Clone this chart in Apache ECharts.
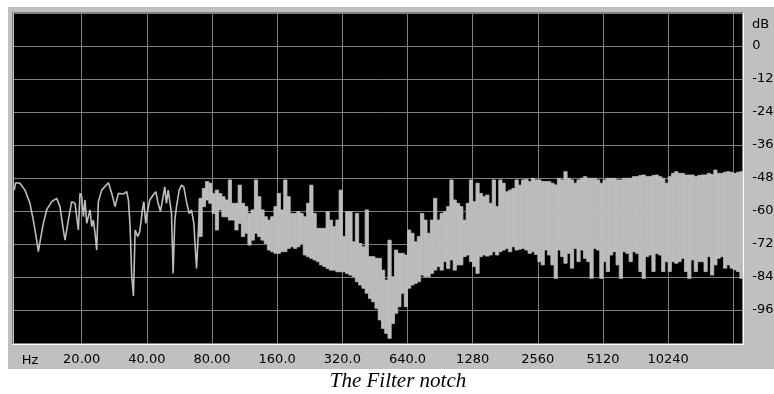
<!DOCTYPE html>
<html>
<head>
<meta charset="utf-8">
<script src="https://cdn.jsdelivr.net/npm/echarts@6/dist/echarts.min.js"></script>
<style>
html, body { margin: 0; padding: 0; background: #fff; }
#chart { width: 774px; height: 394px; }
</style>
</head>
<body>
<div id="chart"></div>
<script>
// x unit: octaves above 20 Hz (the analyser's log frequency axis)
const xTickOct = [0, 1, 2, 3, 4, 5, 6, 7, 8, 9, 10];
const xTickLabels = ['20.00', '40.00', '80.00', '160.0', '320.0', '640.0', '1280', '2560', '5120', '10240', ''];

// low end: few bins, drawn as a single trace
const lowOct = [
    -1.035, -1.014, -0.948, -0.871, -0.794, -0.743, -0.691, -0.666, -0.640, -0.589,
    -0.538, -0.461, -0.384, -0.333, -0.282, -0.256, -0.205, -0.154, -0.102, -0.077,
    -0.051, -0.026, 0, 0.026, 0.051, 0.077, 0.128, 0.154, 0.179, 0.205,
    0.230, 0.256, 0.307, 0.410, 0.461, 0.512, 0.563, 0.640, 0.691, 0.717,
    0.743, 0.768, 0.794, 0.820, 0.860, 0.891, 0.932, 0.953, 0.983, 1.004,
    1.045, 1.096, 1.137, 1.173, 1.209, 1.240, 1.275, 1.301, 1.327, 1.352,
    1.378, 1.403, 1.429, 1.455, 1.496, 1.532, 1.567, 1.608, 1.649, 1.685,
    1.721, 1.762, 1.787, 1.813
];
const lowDb = [
    -52.4, -49.7, -49.9, -52.4, -57.2, -63.3, -70.6, -74.8, -71.2, -64.5,
    -59.6, -56.6, -55.4, -58.4, -66.9, -70.6, -63.3, -56.6, -57.2, -62.1,
    -66.9, -53.6, -54.8, -62.1, -56.0, -64.5, -59.6, -65.7, -63.3, -68.1,
    -74.2, -56.6, -52.4, -49.7, -53.6, -58.4, -53.6, -53.8, -53.0, -56.0,
    -65.7, -83.9, -90.9, -66.9, -69.3, -67.5, -59.6, -56.6, -64.5, -60.9,
    -56.0, -54.2, -53.0, -57.2, -60.2, -56.0, -51.2, -57.2, -52.4, -51.8,
    -60.9, -82.7, -63.3, -58.4, -52.4, -50.6, -51.2, -56.6, -60.9, -59.6,
    -64.5, -80.9, -69.3, -55.4
];

// upper part: dense bins, drawn as max/min per column
const bandStart = 1.8;
const bandStep = 0.05;
const bandHi = [
    -55.4, -51.8, -49.3, -49.9, -53.6, -52.4, -53.6, -54.8, -56.0, -48.7,
    -57.2, -57.2, -50.6, -57.2, -58.4, -60.9, -59.6, -48.7, -54.8, -59.6,
    -62.1, -63.3, -62.1, -58.4, -53.6, -59.6, -48.7, -54.8, -60.9, -60.9,
    -60.2, -60.9, -62.1, -57.2, -50.6, -60.9, -66.3, -66.3, -66.3, -60.2,
    -63.3, -65.7, -63.3, -52.4, -69.3, -60.2, -60.2, -71.2, -60.9, -71.8,
    -73.0, -59.6, -76.6, -76.6, -77.2, -77.2, -81.5, -85.1, -70.6, -83.9,
    -74.2, -75.4, -75.4, -76.0, -66.9, -68.1, -71.2, -69.3, -60.9, -63.3,
    -68.1, -63.3, -55.4, -63.3, -60.9, -60.2, -58.4, -48.7, -56.0, -57.2,
    -58.4, -63.3, -57.2, -48.7, -56.6, -49.9, -53.6, -54.8, -54.2, -57.2,
    -48.7, -58.4, -48.7, -49.9, -53.0, -52.4, -51.8, -48.7, -50.6, -48.7,
    -48.5, -49.3, -48.1, -48.7, -48.7, -49.3, -49.3, -49.3, -49.9, -50.5,
    -48.1, -48.7, -45.7, -48.1, -48.7, -49.9, -48.7, -48.1, -47.5, -48.1,
    -48.1, -48.1, -48.7, -49.9, -48.7, -48.1, -48.1, -48.1, -48.7, -48.7,
    -48.1, -48.1, -48.1, -47.5, -47.5, -47.1, -46.9, -47.5, -47.5, -47.1,
    -46.9, -47.5, -48.1, -49.9, -47.5, -46.3, -45.7, -46.3, -46.3, -46.9,
    -46.9, -46.9, -47.5, -47.1, -46.9, -46.9, -46.3, -46.7, -45.1, -46.3,
    -46.3, -45.9, -45.7, -45.9, -46.3, -45.9, -45.7
];
const bandLo = [
    -69.3, -58.4, -56.0, -57.2, -60.9, -66.9, -59.6, -62.1, -62.1, -63.3,
    -63.3, -66.9, -64.5, -69.3, -68.1, -72.4, -70.6, -68.1, -69.3, -70.6,
    -71.8, -74.2, -74.8, -75.4, -75.4, -74.8, -74.8, -73.6, -73.0, -73.6,
    -73.0, -71.8, -76.0, -76.6, -77.2, -77.8, -78.4, -79.6, -80.2, -80.9,
    -81.5, -81.5, -82.1, -82.1, -82.1, -82.7, -83.3, -83.9, -85.7, -86.9,
    -88.1, -89.9, -91.8, -93.0, -95.4, -99.6, -102.7, -104.5, -106.3, -100.9,
    -97.2, -94.8, -89.9, -94.8, -88.1, -86.9, -86.3, -85.7, -83.3, -83.9,
    -83.9, -82.7, -81.5, -80.2, -81.5, -78.4, -80.9, -77.8, -81.5, -79.6,
    -79.6, -76.6, -76.0, -78.4, -80.2, -82.7, -76.6, -76.0, -76.4, -76.0,
    -74.8, -76.0, -74.8, -74.2, -73.6, -74.8, -73.0, -74.2, -73.9, -73.6,
    -74.2, -75.4, -74.8, -75.8, -78.4, -79.6, -74.2, -76.0, -79.6, -84.5,
    -74.2, -76.6, -79.0, -75.4, -80.8, -73.6, -78.4, -74.2, -77.2, -78.4,
    -84.5, -73.6, -74.2, -84.5, -78.4, -82.0, -76.0, -74.8, -79.6, -84.5,
    -74.8, -75.4, -78.4, -74.8, -75.4, -82.0, -84.5, -76.6, -76.0, -82.0,
    -75.4, -76.0, -82.0, -78.4, -82.0, -78.4, -79.0, -78.4, -77.2, -82.0,
    -84.5, -77.8, -82.0, -78.4, -78.4, -82.0, -76.6, -83.3, -79.6, -77.2,
    -76.6, -80.8, -79.6, -80.8, -81.4, -82.0, -84.5
];

const traceColor = '#bdbdbd';
const gridColor = '#808080';
const labelFont = 'DejaVu Sans';

const chart = echarts.init(document.getElementById('chart'), null, { renderer: 'canvas' });

const option = {
    animation: false,
    backgroundColor: '#fff',
    grid: {
        left: 14, top: 13, width: 728.3, height: 330,
        outerBoundsMode: 'none',
        show: true, backgroundColor: '#000', borderWidth: 0
    },
    xAxis: {
        type: 'value',
        min: -1.039,
        max: 10.138,
        axisLine: { show: false },
        axisTick: { show: false, customValues: xTickOct },
        axisLabel: {
            customValues: xTickOct.slice(0, 10),
            formatter: v => xTickLabels[Math.round(v)],
            color: '#000', fontFamily: labelFont, fontSize: 13, margin: 10
        },
        splitLine: { show: true, lineStyle: { color: gridColor, width: 1 } }
    },
    yAxis: {
        type: 'value',
        position: 'right',
        min: -108,
        max: 12,
        interval: 12,
        axisLine: { show: false },
        axisTick: { show: false },
        axisLabel: {
            formatter: v => (v === 12 || v === -108) ? '' : String(v),
            color: '#000', fontFamily: labelFont, fontSize: 13, margin: 10
        },
        splitLine: { show: true, lineStyle: { color: gridColor, width: 1 } }
    },
    graphic: [
        { type: 'rect', z: -100, silent: true, shape: { x: 8, y: 7, width: 766, height: 362 }, style: { fill: '#c0c0c0' } },
        { type: 'line', z: 100, silent: true, shape: { x1: 12.5, y1: 12.5, x2: 744, y2: 12.5 }, style: { stroke: '#808080', lineWidth: 1 } },
        { type: 'line', z: 100, silent: true, shape: { x1: 12.5, y1: 12.5, x2: 12.5, y2: 344 }, style: { stroke: '#808080', lineWidth: 1 } },
        { type: 'line', z: 100, silent: true, shape: { x1: 743.5, y1: 12.5, x2: 743.5, y2: 344.5 }, style: { stroke: '#ffffff', lineWidth: 1 } },
        { type: 'line', z: 100, silent: true, shape: { x1: 12.5, y1: 344.5, x2: 743.5, y2: 344.5 }, style: { stroke: '#ffffff', lineWidth: 1 } },
        { type: 'text', x: 30, y: 361, style: { text: 'Hz', fill: '#000', font: '13px "DejaVu Sans"', align: 'center', verticalAlign: 'middle' } },
        { type: 'text', x: 752, y: 25, style: { text: 'dB', fill: '#000', font: '13px "DejaVu Sans"', align: 'left', verticalAlign: 'middle' } },
        { type: 'text', x: 398, y: 381, style: { text: 'The Filter notch', fill: '#000', font: 'italic 21px "Liberation Serif"', align: 'center', verticalAlign: 'middle' } }
    ],
    series: [
        {
            type: 'line',
            data: lowOct.map((o, i) => [o, lowDb[i]]),
            showSymbol: false,
            lineStyle: { color: traceColor, width: 1.6 },
            z: 3
        },
        {
            type: 'custom',
            data: bandHi.map((h, k) => [bandStart + k * bandStep, h, bandLo[k]]),
            encode: { x: 0, y: [1, 2] },
            renderItem: function (params, api) {
                const o = api.value(0);
                const top = api.coord([o, api.value(1)]);
                const bot = api.coord([o + bandStep, api.value(2)]);
                return {
                    type: 'rect',
                    shape: { x: top[0], y: top[1], width: bot[0] - top[0], height: bot[1] - top[1] },
                    style: { fill: traceColor, stroke: traceColor, lineWidth: 0.8 }
                };
            },
            z: 3
        }
    ]
};

chart.setOption(option);
</script>
</body>
</html>
